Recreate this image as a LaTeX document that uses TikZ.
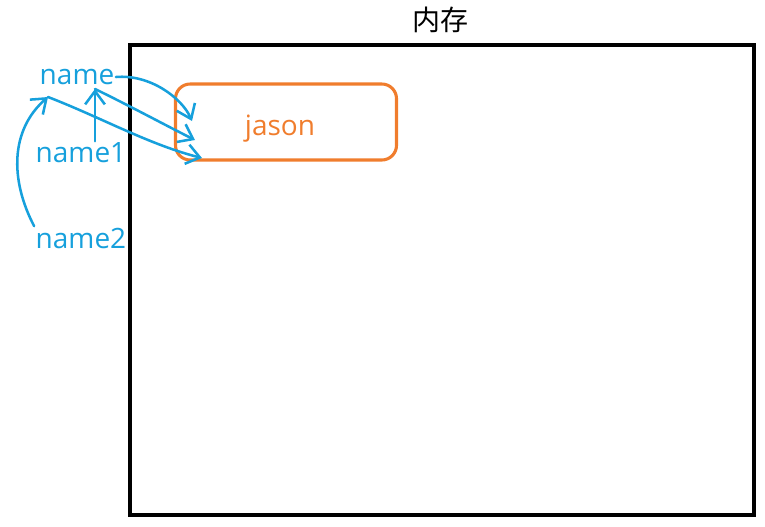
\documentclass[tikz,border=0pt]{standalone}
\usepackage{fontspec}
\setmainfont{Open Sans}
\newfontfamily\cjkfont{Noto Sans CJK SC}
\usepackage{xcolor}
\usetikzlibrary{arrows.meta}
\definecolor{refblue}{RGB}{22,160,220}
\definecolor{objorange}{RGB}{240,125,45}
\tikzset{
  >={Straight Barb[length=3.5mm,width=5.2mm]},
  font=\fontsize{21}{24}\selectfont,
  membox/.style={draw=black, line width=3pt, inner sep=0pt,
    minimum width=468pt, minimum height=352.5pt},
  objbox/.style={draw=objorange, text=objorange, line width=2.3pt,
    rounded corners=11pt, inner sep=0pt,
    minimum width=165.75pt, minimum height=57pt},
  varlbl/.style={text=refblue, inner sep=1pt},
  % reference arrows
  refflow/.style={->, refblue, line width=1.9pt, line cap=round},
}

\begin{document}
\begin{tikzpicture}[x=0.75pt,y=-0.75pt]
\useasboundingbox (0,0) rectangle (765,526);

% ---------- memory ----------
\node[membox, anchor=north west] (mem) at (128,43) {};
\node (title) at (440,20) {\cjkfont 内存};
\node[objbox] (jason) at (286,122)
  {\kern-9pt\raisebox{-5pt}[\height][\depth]{jason}};

% ---------- variables ----------
\node[varlbl] (name)  at (77,77)  {name};
\node[varlbl] (name1) at (81,153) {name1};
\node[varlbl] (name2) at (81,238) {name2};

\coordinate (h1) at (95,89);
\coordinate (h2) at (48,97);
\coordinate (t1) at (192,121);
\coordinate (t2) at (195,140);
\coordinate (t3) at (202,158);

% ---------- references ----------
\draw[refflow] (name.east) .. controls (150,74) and (182,98) .. (t1);
\draw[refflow] (name1.north -| h1) -- (h1);
\draw[refflow] (name2.north west) .. controls (10,180) and (10,130) .. (h2);
\draw[refflow] (h1) .. controls (130,106) and (165,125) .. (t2);
\draw[refflow] (h2) .. controls (100,117) and (150,145) .. (t3);

\end{tikzpicture}
\end{document}
